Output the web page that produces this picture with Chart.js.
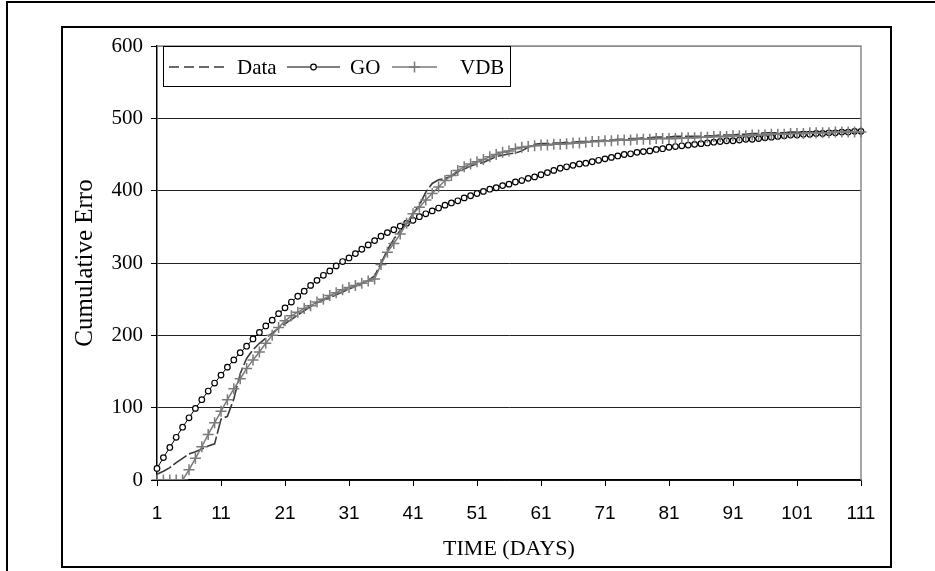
<!DOCTYPE html>
<html>
<head>
<meta charset="utf-8">
<script src="https://cdn.jsdelivr.net/npm/chart.js@4.4.1/dist/chart.umd.min.js"></script>
<style>
  html, body { margin: 0; padding: 0; background: #fff; }
  body { width: 935px; height: 571px; position: relative; overflow: hidden; }
  .outer { position: absolute; left: 6px; top: 1px; right: 0; bottom: 0; border-top: 2px solid #000; border-left: 2px solid #000; }
  .inner { position: absolute; left: 61px; top: 26px; width: 831px; height: 542px; box-sizing: border-box; border: 2px solid #000; }
  #chart { position: absolute; left: 0; top: 0; }
</style>
</head>
<body>
<div class="outer"></div>
<div class="inner"></div>
<canvas id="chart" width="935" height="571"></canvas>
<script>
// ── cumulative error chart: observed data vs GO and VDB models ──────────────

const days = Array.from({ length: 111 }, (_, i) => i + 1);
const xTickLabels = ['1', '11', '21', '31', '41', '51', '61', '71', '81', '91', '101', '111'];
const yTicks = [0, 100, 200, 300, 400, 500, 600];

// Data (observed)
const observed = [
  8, 12, 17, 24, 30, 36, 39, 43, 47, 50,
  84, 88, 112, 147, 168, 180, 189, 196, 203, 210,
  216, 222, 228, 234, 240, 245, 249, 252, 256, 260,
  264, 268, 272, 276, 282, 300, 318, 333, 345, 355,
  368, 380, 398, 410, 415, 417, 420, 426, 430, 434,
  437, 439, 443, 447, 449, 451, 452, 455, 460, 464,
  465, 465, 466, 466, 467, 467, 468, 468, 469, 469,
  470, 470, 471, 471, 472, 472, 473, 473, 474, 474,
  474, 475, 475, 475, 475, 475, 476, 476, 477, 477,
  477, 478, 478, 479, 479, 480, 480, 480, 480, 481,
  481, 481, 481, 481, 481, 482, 482, 482, 482, 482, 482,
];

// GO model
const goModel = [
  16, 31, 45, 59, 73, 86, 99, 111, 123, 134,
  145, 156, 166, 176, 185, 195, 204, 213, 221, 230,
  238, 246, 254, 261, 269, 276, 283, 289, 296, 302,
  307, 313, 319, 325, 331, 337, 342, 346, 351, 355,
  359, 364, 368, 372, 376, 380, 383, 386, 390, 393,
  396, 399, 402, 404, 407, 409, 412, 414, 417, 419,
  422, 425, 428, 431, 433, 435, 437, 438, 440, 442,
  444, 446, 448, 450, 451, 453, 454, 455, 457, 458,
  460, 461, 462, 463, 464, 465, 466, 467, 468, 469,
  469, 470, 471, 471, 472, 473, 474, 475, 476, 477,
  477, 478, 478, 479, 479, 480, 480, 481, 481, 482, 482,
];

// VDB model
const vdbModel = [
  0, 0, 0, 0, 0, 14, 30, 46, 63, 79,
  95, 111, 126, 140, 154, 166, 177, 189, 200, 211,
  220, 227, 232, 237, 241, 246, 250, 255, 259, 263,
  266, 269, 272, 275, 278, 298, 315, 327, 340, 355,
  368, 377, 387, 396, 405, 414, 421, 428, 433, 437,
  440, 443, 447, 450, 453, 455, 458, 460, 461, 462,
  463, 463, 464, 464, 465, 466, 466, 467, 468, 468,
  469, 469, 470, 470, 470, 471, 471, 471, 472, 472,
  472, 472, 473, 473, 473, 474, 474, 475, 475, 475,
  476, 476, 476, 477, 477, 477, 478, 478, 478, 479,
  479, 479, 480, 480, 480, 480, 481, 481, 481, 481, 481,
];

const SERIF = "'Liberation Serif', 'Times New Roman', serif";
const SANS  = "'Liberation Sans Narrow', 'Liberation Sans', Arial, sans-serif";

// gray plot-area frame + legend box inside the plot
const decor = {
  id: 'decor',
  beforeDatasetsDraw(chart) {
    const { ctx, chartArea: a } = chart;
    ctx.save();
    ctx.strokeStyle = '#8a8a8a';
    ctx.lineWidth = 1.5;
    ctx.beginPath();
    ctx.moveTo(a.left, a.top);
    ctx.lineTo(a.right, a.top);
    ctx.lineTo(a.right, a.bottom);
    ctx.stroke();
    ctx.restore();
  },
  afterDraw(chart) {
    const { ctx } = chart;
    ctx.save();
    ctx.fillStyle = '#fff';
    ctx.fillRect(163, 46, 347, 40);
    ctx.strokeStyle = '#000';
    ctx.lineWidth = 1;
    ctx.strokeRect(163.5, 46.5, 347, 40);

    const y = 67;
    const items = [
      { x0: 169, x1: 228, tx: 237, dash: [10, 5] },
      { x0: 287, x1: 340, tx: 350, dash: [] },
      { x0: 392, x1: 437, tx: 460, dash: [] },
    ];
    chart.data.datasets.forEach((ds, i) => {
      const it = items[i];
      ctx.strokeStyle = ds.borderColor;
      ctx.lineWidth = ds.borderWidth;
      ctx.setLineDash(it.dash);
      ctx.beginPath();
      ctx.moveTo(it.x0, y);
      ctx.lineTo(it.x1, y);
      ctx.stroke();
      ctx.setLineDash([]);
      const cx = (it.x0 + it.x1) / 2;
      if (ds.pointStyle === 'circle' && ds.pointRadius > 0) {
        ctx.fillStyle = ds.pointBackgroundColor;
        ctx.strokeStyle = ds.pointBorderColor;
        ctx.lineWidth = ds.pointBorderWidth;
        ctx.beginPath();
        ctx.arc(cx, y, ds.pointRadius, 0, Math.PI * 2);
        ctx.fill();
        ctx.stroke();
      } else if (ds.pointStyle === 'cross') {
        ctx.strokeStyle = ds.pointBorderColor;
        ctx.lineWidth = ds.pointBorderWidth;
        ctx.beginPath();
        ctx.moveTo(cx - ds.pointRadius, y);
        ctx.lineTo(cx + ds.pointRadius, y);
        ctx.moveTo(cx, y - ds.pointRadius);
        ctx.lineTo(cx, y + ds.pointRadius);
        ctx.stroke();
      }
      ctx.fillStyle = '#000';
      ctx.font = '21px ' + SERIF;
      ctx.textBaseline = 'middle';
      ctx.textAlign = 'left';
      ctx.fillText(ds.label, it.tx, y + 1);
    });
    ctx.restore();
  },
};

new Chart(document.getElementById('chart'), {
  type: 'line',
  data: {
    labels: days,
    datasets: [
      {
        label: 'Data',
        data: observed,
        borderColor: '#3a3a3a',
        borderWidth: 1.6,
        borderDash: [16, 3],
        pointRadius: 0,
        pointStyle: 'line',
        tension: 0,
        order: 2,
      },
      {
        label: 'GO',
        data: goModel,
        borderColor: '#000',
        borderWidth: 1,
        pointStyle: 'circle',
        pointRadius: 2.8,
        pointBackgroundColor: '#fff',
        pointBorderColor: '#000',
        pointBorderWidth: 1.2,
        tension: 0,
        order: 1,
      },
      {
        label: 'VDB',
        data: vdbModel,
        borderColor: '#7a7a7a',
        borderWidth: 1.5,
        pointStyle: 'cross',
        pointRadius: 5.5,
        pointBorderColor: '#7a7a7a',
        pointBorderWidth: 1.5,
        tension: 0,
        order: 0,
      },
    ],
  },
  options: {
    responsive: false,
    animation: false,
    events: [],
    layout: { padding: { left: 68, top: 46, right: 74, bottom: 0 } },
    plugins: {
      legend: { display: false },
      tooltip: { enabled: false },
    },
    scales: {
      x: {
        type: 'category',
        offset: false,
        afterFit: s => { s.height = 91; },
        border: { color: '#000', width: 1.5 },
        grid: {
          drawOnChartArea: false,
          drawTicks: true,
          tickLength: 6,
          tickColor: ctx => (ctx.index % 10 === 0 ? '#000' : 'rgba(0,0,0,0)'),
        },
        ticks: {
          autoSkip: false,
          maxRotation: 0,
          color: '#000',
          padding: 16,
          font: { family: SANS, size: 19 },
          callback: (v, i) => (i % 10 === 0 ? xTickLabels[i / 10] : ''),
        },
        title: {
          display: true,
          text: 'TIME (DAYS)',
          color: '#000',
          font: { family: SERIF, size: 22 },
          padding: { top: 0, bottom: 9 },
        },
      },
      y: {
        min: 0,
        max: 600,
        afterFit: s => { s.width = 89; },
        afterBuildTicks: s => { s.ticks = yTicks.map(v => ({ value: v })); },
        border: { color: '#000', width: 1.5 },
        grid: {
          color: ctx => (ctx.tick && ctx.tick.value === 600 ? '#8a8a8a' : '#222'),
          lineWidth: 1,
          tickLength: 6,
          tickColor: '#000',
        },
        ticks: {
          color: '#000',
          padding: 8,
          font: { family: SERIF, size: 21 },
        },
        title: {
          display: true,
          text: 'Cumulative Erro',
          color: '#000',
          font: { family: SERIF, size: 25 },
          padding: { top: 2, bottom: 0 },
        },
      },
    },
  },
  plugins: [decor],
});
</script>
</body>
</html>
